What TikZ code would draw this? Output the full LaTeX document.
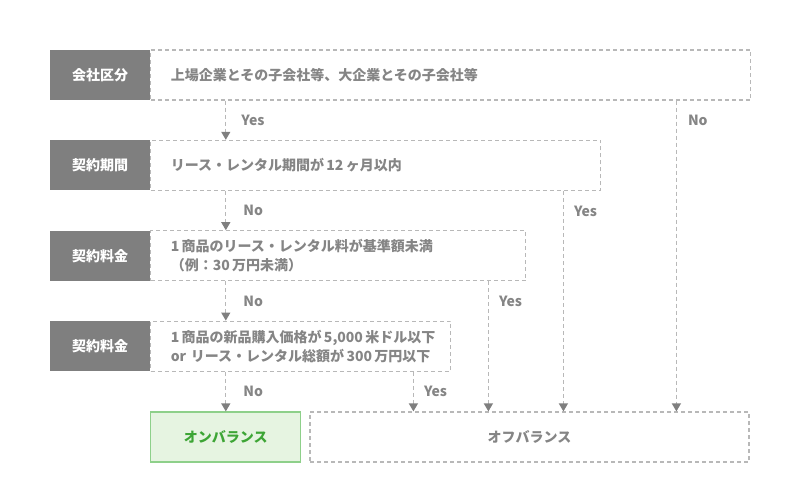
\documentclass[tikz,border=0pt]{standalone}
\usepackage{fontspec}
\setmainfont{Noto Sans CJK JP}
\usetikzlibrary{arrows.meta,positioning}
\definecolor{kgray}{HTML}{7F7F7F}
\definecolor{lgray}{HTML}{B8B8B8}
\definecolor{tgray}{HTML}{858585}
\definecolor{gfill}{HTML}{E6F4E1}
\definecolor{gline}{HTML}{8ED08A}
\definecolor{gtext}{HTML}{3DA535}
\begin{document}
\begin{tikzpicture}[x=1pt,y=-1pt,font=\fontsize{14}{19}\selectfont\bfseries,
	head/.style={fill=kgray,text=white,minimum width=100pt,minimum height=50pt,inner sep=0pt},
	cond/.style={draw=lgray,line width=1.2pt,dash pattern=on 4pt off 3pt,text=tgray,minimum height=50pt,inner xsep=20pt,inner ysep=0pt,align=left},
	arr/.style={draw=lgray,line width=1.2pt,dash pattern=on 4pt off 3pt,-{Triangle[width=9pt,length=8pt,color=kgray]}},
	lbl/.style={text=tgray,anchor=west,inner sep=0pt}]
	\useasboundingbox (0,0) rectangle (800,500);
	\node[head] (k1) at (100,75) {会社区分};
	\node[cond,right=0pt of k1,text width=560pt] (c1) {上場企業とその子会社等、大企業とその子会社等};
	\node[head,below=40pt of k1] (k2) {契約期間};
	\node[cond,right=0pt of k2,text width=410pt] (c2) {リース・レンタル期間が\,12\,ヶ月以内};
	\node[head,below=40pt of k2] (k3) {契約料金};
	\node[cond,right=0pt of k3,text width=335pt] (c3) {1\,商品のリース・レンタル料が基準額未満\\（例：30\,万円未満）};
	\node[head,below=40pt of k3] (k4) {契約料金};
	\node[cond,right=0pt of k4,text width=260pt] (c4) {1\,商品の新品購入価格が\,5,000\,米ドル以下\\or リース・レンタル総額が\,300\,万円以下};
	\node[draw=gline,fill=gfill,line width=1.2pt,text=gtext,minimum width=150pt,minimum height=50pt,inner sep=0pt,below right=40pt and 0pt of k4.south east] (on) {オンバランス};
	\node[cond,right=8pt of on,minimum width=439pt,inner xsep=0pt] (off) {オフバランス};
	\draw[arr] (c1.south -| on.north) -- node[lbl,xshift=15pt]{Yes} (c2.north -| on.north);
	\draw[arr] (c2.south -| on.north) -- node[lbl,xshift=17pt]{No} (c3.north -| on.north);
	\draw[arr] (c3.south -| on.north) -- node[lbl,xshift=17pt]{No} (c4.north -| on.north);
	\draw[arr] (c4.south -| on.north) -- node[lbl,xshift=17pt]{No} (on.north);
	\coordinate (r1) at ([xshift=-75pt]c1.south east);
	\coordinate (r2) at ([xshift=-38pt]c2.south east);
	\coordinate (r3) at ([xshift=-38pt]c3.south east);
	\coordinate (r4) at ([xshift=-38pt]c4.south east);
	\draw[arr] (r1) -- node[lbl,at start,xshift=11pt,yshift=-20pt]{No} (r1 |- off.north);
	\draw[arr] (r2) -- node[lbl,at start,xshift=10pt,yshift=-20pt]{Yes} (r2 |- off.north);
	\draw[arr] (r3) -- node[lbl,at start,xshift=10pt,yshift=-20pt]{Yes} (r3 |- off.north);
	\draw[arr] (r4) -- node[lbl,at start,xshift=10pt,yshift=-20pt]{Yes} (r4 |- off.north);
\end{tikzpicture}
\end{document}
